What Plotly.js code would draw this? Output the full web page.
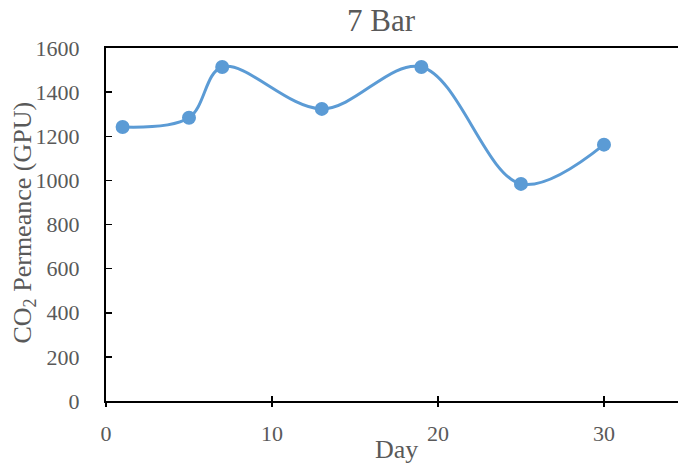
<!DOCTYPE html>
<html>
<head>
<meta charset="utf-8">
<script src="https://cdn.plot.ly/plotly-3.0.1.min.js"></script>
<style>html,body{margin:0;padding:0;background:#fff;}#chart{width:678px;height:470px;}</style>
</head>
<body>
<div id="chart"></div>
<script>
const days = [1, 5, 7, 13, 19, 25, 30];
const permeance = [1242, 1284, 1514, 1324, 1514, 984, 1162];
const xTicks = [0, 10, 20, 30];
const yTicks = [0, 200, 400, 600, 800, 1000, 1200, 1400, 1600];
const chartTitle = "7 Bar";
const xTitle = "Day";
const yTitle = "CO<sub>2</sub> Permeance (GPU)";

const fontFam = "Liberation Serif, Times New Roman, serif";
const grey = "#595959";
const blue = "#5B9BD5";

const trace = {
  x: days, y: permeance, type: "scatter", mode: "lines+markers",
  line: {color: blue, width: 3, shape: "spline", smoothing: 1},
  marker: {color: blue, size: 14},
  cliponaxis: false, showlegend: false, hoverinfo: "none"
};
const dummy = {x: [0], y: [0], xaxis: "x2", yaxis: "y", mode: "markers",
  marker: {opacity: 0}, showlegend: false, hoverinfo: "none"};

const layout = {
  width: 678, height: 470,
  margin: {l: 106, r: 0, t: 48, b: 69},
  paper_bgcolor: "#fff", plot_bgcolor: "#fff",
  font: {family: fontFam, color: grey, size: 22},
  title: {text: chartTitle, font: {family: fontFam, size: 31, color: grey},
    x: 381 / 678, xref: "container", xanchor: "center", y: 0.957, yanchor: "middle"},
  xaxis: {range: [0, 34.46], tickvals: xTicks, ticktext: xTicks.map(String),
    showgrid: false, zeroline: false, showline: true, linecolor: "#000", linewidth: 2,
    mirror: true, ticks: "inside", ticklen: 5, tickwidth: 1.5, tickcolor: "#000",
    tickfont: {size: 22, color: grey}, ticklabelstandoff: 12},
  xaxis2: {range: [0, 34.46], overlaying: "x", tickvals: xTicks, showticklabels: false,
    showgrid: false, zeroline: false, showline: false,
    ticks: "outside", ticklen: 5, tickwidth: 1.5, tickcolor: "#000"},
  yaxis: {range: [0, 1600], tickvals: yTicks, ticktext: yTicks.map(String),
    showgrid: false, zeroline: false, showline: true, linecolor: "#000", linewidth: 2,
    ticks: "inside", ticklen: 6, tickwidth: 1.5, tickcolor: "#000",
    tickfont: {size: 22, color: grey}, ticklabelstandoff: 20},
  annotations: [
    {text: xTitle, xref: "paper", yref: "paper", x: (396 - 106) / 572, y: 0,
      yshift: -48, xanchor: "center", yanchor: "middle", showarrow: false,
      font: {size: 26, color: grey, family: fontFam}},
    {text: yTitle, xref: "paper", yref: "paper", x: 0, y: 0.5, xshift: -83, yshift: 2,
      textangle: -90, xanchor: "center", yanchor: "middle", showarrow: false,
      font: {size: 26, color: grey, family: fontFam}}
  ]
};

Plotly.newPlot("chart", [dummy, trace], layout, {staticPlot: true, displayModeBar: false});
</script>
</body>
</html>
